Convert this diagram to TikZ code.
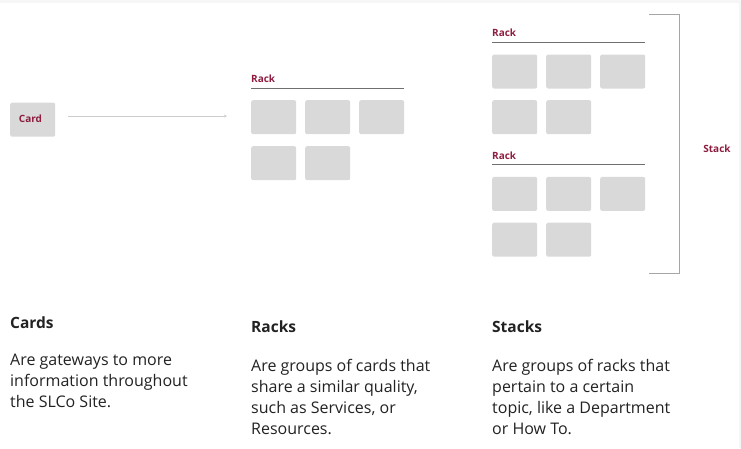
\documentclass[tikz,border=0pt]{standalone}
\usepackage{fontspec}
\setmainfont{Open Sans}
\usetikzlibrary{arrows.meta}
\definecolor{wine}{HTML}{8E1D3F}
\definecolor{boxgray}{HTML}{D9D9D9}
\definecolor{ruleg}{HTML}{6F6F6F}
\definecolor{brack}{HTML}{A6A6A6}
\definecolor{arrowg}{HTML}{CDCDCD}
\definecolor{txt}{HTML}{222222}
\definecolor{edgeg}{HTML}{F6F6F6}
\begin{document}
\begin{tikzpicture}[x=1pt,y=-1pt,
  tile/.style={fill=boxgray,rounded corners=2pt,minimum width=45pt,minimum height=34pt,inner sep=0pt,anchor=north west},
  lbl/.style={text=wine,font=\fontsize{10}{12}\selectfont\bfseries,anchor=base west,inner sep=0pt},
  head/.style={text=txt,font=\fontsize{15.5}{18}\selectfont\bfseries,anchor=base west,inner sep=0pt},
  body/.style={text=txt,font=\fontsize{16}{20}\selectfont,anchor=base west,inner sep=0pt},
  rackrule/.style={draw=ruleg,line width=1.2pt},
  bracket/.style={draw=brack,line width=1pt},
  conn/.style={draw=arrowg,line width=1pt,-{Stealth[length=3pt,width=3pt]}}]
\useasboundingbox (0,0) rectangle (741,448);
\fill[edgeg] (0,0) rectangle (741,3);
\fill[edgeg] (739,0) rectangle (741,448);
% Card
\node[tile] (card) at (10,102.5) {};
\node[lbl,anchor=base] (cardlbl) at (30.5,122.3) {Card};
\coordinate (arrS) at (68,116);
\coordinate (arrE) at (227,116);
\draw[conn] (arrS) -- (arrE);
% Rack 1
\node[lbl] (r1lbl) at (251,82.7) {Rack};
\coordinate (r1a) at (251,88.3);
\coordinate (r1b) at (404,88.3);
\draw[rackrule] (r1a) -- (r1b);
\node[tile] (r1t1) at (251,100) {};
\node[tile] (r1t2) at (305,100) {};
\node[tile] (r1t3) at (359,100) {};
\node[tile] (r1t4) at (251,146) {};
\node[tile] (r1t5) at (305,146) {};
% Stack rack A
\node[lbl] (s1lbl) at (492,36.7) {Rack};
\coordinate (s1a) at (492,42.3);
\coordinate (s1b) at (645,42.3);
\draw[rackrule] (s1a) -- (s1b);
\node[tile] (s1t1) at (492,54.3) {};
\node[tile] (s1t2) at (546,54.3) {};
\node[tile] (s1t3) at (600,54.3) {};
\node[tile] (s1t4) at (492,100) {};
\node[tile] (s1t5) at (546,100) {};
% Stack rack B
\node[lbl] (s2lbl) at (492,159) {Rack};
\coordinate (s2a) at (492,164.7);
\coordinate (s2b) at (645,164.7);
\draw[rackrule] (s2a) -- (s2b);
\node[tile] (s2t1) at (492,176.7) {};
\node[tile] (s2t2) at (546,176.7) {};
\node[tile] (s2t3) at (600,176.7) {};
\node[tile] (s2t4) at (492,222.5) {};
\node[tile] (s2t5) at (546,222.5) {};
% Bracket
\coordinate (bA) at (649,14.3);
\coordinate (bB) at (679,14.3);
\coordinate (bC) at (679,273.3);
\coordinate (bD) at (649,273.3);
\draw[bracket] (bA) -- (bB) -- (bC) -- (bD);
\node[lbl,anchor=base] (stacklbl) at (717,152.7) {Stack};
% Captions
\node[head] (h1) at (10,328.5) {Cards};
\node[head] (h2) at (251,332.7) {Racks};
\node[head] (h3) at (492,332.7) {Stacks};
\node[body] (b1a) at (10,365) {Are gateways to more};
\node[body] (b1b) at (10,386.3) {information throughout};
\node[body] (b1c) at (10,407.6) {the SLCo Site.};
\node[body] (b2a) at (251,371) {Are groups of cards that};
\node[body] (b2b) at (251,392.3) {share a similar quality,};
\node[body] (b2c) at (251,413.6) {such as Services, or};
\node[body] (b2d) at (251,434.9) {Resources.};
\node[body] (b3a) at (492,371) {Are groups of racks that};
\node[body] (b3b) at (492,392.3) {pertain to a certain};
\node[body] (b3c) at (492,413.6) {topic, like a Department};
\node[body] (b3d) at (492,434.9) {or How To.};
\end{tikzpicture}
\end{document}
